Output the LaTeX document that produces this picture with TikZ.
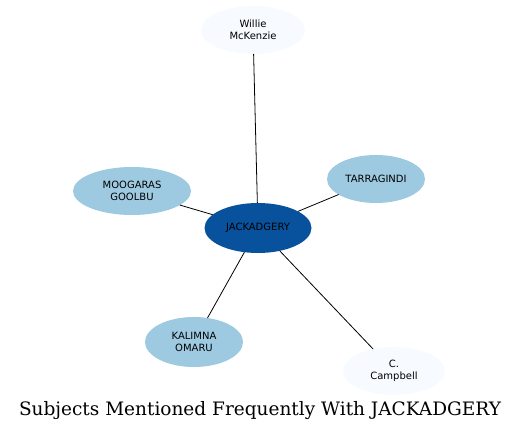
\documentclass[tikz,border=0pt]{standalone}
\usepackage{fontspec}
\newfontfamily\nodefont{DejaVu Sans}
\newfontfamily\titlefont{DejaVu Serif}
\usetikzlibrary{shapes.geometric}
\definecolor{pale}{HTML}{F7FBFF}
\definecolor{mid}{HTML}{9ECAE1}
\definecolor{deep}{HTML}{08519C}
\begin{document}
\begin{tikzpicture}[x=1pt,y=-1pt,line cap=round,line join=round,
  every node/.style={inner sep=0pt},
  subj/.style={ellipse,draw=none,align=center,font=\nodefont\fontsize{10}{11.5}\selectfont},
  link/.style={line width=0.8pt}]
  \useasboundingbox (0,0) rectangle (520,433);
  \node[subj,fill=deep,minimum width=107,minimum height=50] (jack) at (258,228) {JACKADGERY};
  \node[subj,fill=pale,minimum width=104,minimum height=48] (willie) at (253,30) {Willie\\McKenzie};
  \node[subj,fill=mid,minimum width=98,minimum height=48] (tarragindi) at (376,179) {TARRAGINDI};
  \node[subj,fill=mid,minimum width=118,minimum height=48] (moogaras) at (132,191) {MOOGARAS\\GOOLBU};
  \node[subj,fill=mid,minimum width=98,minimum height=50] (kalimna) at (194,342) {KALIMNA\\OMARU};
  \node[subj,fill=pale,minimum width=102,minimum height=48] (campbell) at (394,371) {C.\\Campbell};
  \foreach \n in {willie,tarragindi,moogaras,kalimna,campbell} {
    \draw[link] (jack) -- (\n);
  }
  \node[font=\titlefont\fontsize{18.5}{20}\selectfont] (title) at (260,411) {Subjects Mentioned Frequently With JACKADGERY};
\end{tikzpicture}
\end{document}
